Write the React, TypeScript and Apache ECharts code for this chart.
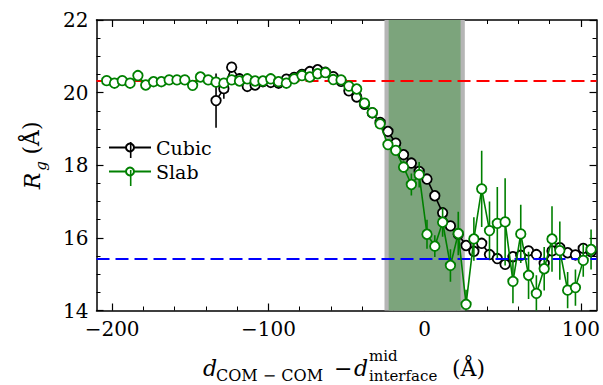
import React, { useEffect, useRef } from "react";
import * as echarts from "echarts";

const FONT = "DejaVu Serif";

// Slab series (green)
const slabX = [
  -203.5, -198.5, -193.5, -188.5, -183.5, -178.5, -173.5, -168.5, -163.5, -158.5,
  -153.5, -148.5, -143.5, -138.5, -133.5, -128.5, -123.5, -118.5, -113.5, -108.5,
  -103.5, -98.5, -93.5, -88.5, -83.5, -78.5, -73.5, -68.5, -63.5, -58.5,
  -53.5, -48.5, -43.5, -38.5, -33.5, -28.5, -23.5, -18.5, -13.5, -8.5,
  -3.5, 1.5, 6.5, 11.5, 16.5, 21.5, 26.5, 31.5, 36.5, 41.5,
  46.5, 51.5, 56.5, 61.5, 66.5, 71.5, 76.5, 81.5, 86.5, 91.5,
  96.5, 101.5, 106.5,
];
const slabY = [
  20.33, 20.26, 20.33, 20.26, 20.47, 20.21, 20.3, 20.3, 20.35, 20.35,
  20.35, 20.2, 20.43, 20.35, 20.29, 20.26, 20.35, 20.32, 20.38, 20.32,
  20.32, 20.38, 20.3, 20.26, 20.38, 20.47, 20.43, 20.52, 20.55, 20.36,
  20.35, 20.18, 20.1, 19.71, 19.45, 19.14, 18.57, 18.41, 17.95, 17.47,
  17.74, 16.1, 15.77, 16.43, 15.24, 16.12, 14.17, 15.97, 17.35, 16.2,
  16.4, 16.44, 14.8, 16.11, 14.97, 14.47, 15.15, 15.97, 15.65, 14.56,
  14.63, 15.38, 15.68,
];
const slabErr = [
  0.05, 0.05, 0.05, 0.05, 0.06, 0.05, 0.05, 0.05, 0.05, 0.05,
  0.05, 0.06, 0.06, 0.06, 0.06, 0.06, 0.06, 0.06, 0.05, 0.05,
  0.05, 0.05, 0.05, 0.05, 0.05, 0.05, 0.05, 0.05, 0.05, 0.05,
  0.06, 0.06, 0.07, 0.07, 0.08, 0.08, 0.1, 0.12, 0.15, 0.3,
  0.35, 0.4, 0.3, 0.4, 0.45, 0.6, 0.4, 0.6, 1.05, 0.8,
  1.0, 1.2, 0.6, 0.8, 0.65, 0.5, 0.6, 0.9, 0.8, 0.5,
  0.5, 0.45, 0.55,
];

// Cubic series (black)
const cubicX = [
  -133.5, -128.5, -123.5, -118.5, -113.5, -108.5, -103.5, -98.5, -93.5, -88.5,
  -83.5, -78.5, -73.5, -68.5, -63.5, -58.5, -53.5, -48.5, -43.5, -38.5,
  -33.5, -28.5, -23.5, -18.5, -13.5, -8.5, -3.5, 1.5, 6.5, 11.5,
  16.5, 21.5, 26.5, 31.5, 36.5, 41.5, 46.5, 51.5, 56.5, 61.5,
  66.5, 71.5, 76.5, 81.5, 86.5, 91.5, 96.5, 101.5, 106.5,
];
const cubicY = [
  19.78, 20.11, 20.7, 20.38, 20.17, 20.21, 20.3, 20.28, 20.26, 20.37,
  20.42, 20.5, 20.58, 20.63, 20.56, 20.44, 20.31, 20.05, 19.88, 19.68,
  19.44, 19.18, 18.93, 18.61, 18.29, 18.06, 17.83, 17.62, 17.16, 16.69,
  16.33, 16.1, 15.79, 15.63, 15.85, 15.54, 15.43, 15.27, 15.48, 15.52,
  15.64, 15.54, 15.3, 15.64, 15.73, 15.59, 15.53, 15.71, 15.62,
];
const cubicErr = [
  0.75, 0.28, 0.12, 0.1, 0.06, 0.05, 0.05, 0.05, 0.05, 0.05,
  0.05, 0.05, 0.05, 0.05, 0.05, 0.05, 0.05, 0.05, 0.05, 0.05,
  0.05, 0.05, 0.06, 0.06, 0.06, 0.06, 0.07, 0.08, 0.08, 0.08,
  0.08, 0.08, 0.08, 0.07, 0.07, 0.07, 0.06, 0.06, 0.06, 0.06,
  0.06, 0.06, 0.06, 0.06, 0.06, 0.06, 0.06, 0.06, 0.06,
];

// Reference levels and interface band
const bulkLevel = 20.32;
const interfaceLevel = 15.43;
const bandOuter = [-25.7, 25.7];
const bandInner = [-23, 23];

// Ticks
const xMajorTicks = [-200, -100, 0, 100];
const xMinorTicks = [-200, -180, -160, -140, -120, -100, -80, -60, -40, -20, 0, 20, 40, 60, 80, 100];

const fmt = (v: number) => (v < 0 ? "\u2212" + Math.abs(v) : String(v));

function errRender(color: string) {
  return (params: any, api: any) => {
    const x = api.value(0);
    const y = api.value(1);
    const e = api.value(2);
    const p1 = api.coord([x, y - e]);
    const p2 = api.coord([x, y + e]);
    return {
      type: "line",
      shape: { x1: p1[0], y1: p1[1], x2: p2[0], y2: p2[1] },
      style: { stroke: color, lineWidth: 1.6 },
    };
  };
}

export default function App() {
  const ref = useRef<HTMLDivElement>(null);
  useEffect(() => {
    if (!ref.current) return;
    const chart = echarts.init(ref.current, undefined, { renderer: "svg" });
    const axisLine = { show: true, onZero: false, lineStyle: { color: "#000", width: 1.5 } };
    const xBase = { type: "value", min: -210, max: 110, splitLine: { show: false }, gridIndex: 0 };
    const hiddenLabel = { show: false };
    const option: any = {
      animation: false,
      backgroundColor: "#fff",
      grid: { left: 96.5, right: 6, top: 20, bottom: 74.5, containLabel: false },
      legend: {
        data: ["Cubic", "Slab"],
        orient: "vertical",
        left: 108,
        top: 138,
        itemWidth: 42,
        itemHeight: 10,
        itemGap: 5,
        padding: 0,
        textStyle: { fontFamily: FONT, fontSize: 19, color: "#000" },
      },
      xAxis: [
        {
          ...xBase,
          position: "bottom",
          axisLine,
          axisTick: { show: true, inside: true, length: 7, customValues: xMajorTicks, lineStyle: { color: "#000", width: 1.2 } },
          axisLabel: { customValues: xMajorTicks, formatter: fmt, fontFamily: FONT, fontSize: 20, color: "#000", margin: 8 },
        },
        {
          ...xBase,
          position: "bottom",
          axisLine: { show: false, onZero: false },
          axisTick: { show: true, inside: true, length: 4, customValues: xMinorTicks, lineStyle: { color: "#000", width: 1 } },
          axisLabel: hiddenLabel,
        },
        {
          ...xBase,
          position: "top",
          axisLine,
          axisTick: { show: true, inside: true, length: 7, customValues: xMajorTicks, lineStyle: { color: "#000", width: 1.2 } },
          axisLabel: hiddenLabel,
        },
        {
          ...xBase,
          position: "top",
          axisLine: { show: false, onZero: false },
          axisTick: { show: true, inside: true, length: 4, customValues: xMinorTicks, lineStyle: { color: "#000", width: 1 } },
          axisLabel: hiddenLabel,
        },
      ],
      yAxis: [
        {
          type: "value",
          min: 14,
          max: 22,
          interval: 2,
          position: "left",
          axisLine,
          splitLine: { show: false },
          axisTick: { show: true, inside: true, length: 7, lineStyle: { color: "#000", width: 1.2 } },
          minorTick: { show: true, splitNumber: 4, length: 4, lineStyle: { color: "#000", width: 1 } },
          axisLabel: { fontFamily: FONT, fontSize: 20, color: "#000", margin: 8 },
        },
        {
          type: "value",
          min: 14,
          max: 22,
          interval: 2,
          position: "right",
          axisLine,
          splitLine: { show: false },
          axisTick: { show: true, inside: true, length: 7, lineStyle: { color: "#000", width: 1.2 } },
          minorTick: { show: true, splitNumber: 4, length: 4, lineStyle: { color: "#000", width: 1 } },
          axisLabel: hiddenLabel,
        },
      ],
      series: [
        {
          type: "line",
          name: "band",
          data: [],
          silent: true,
          z: 1,
          markArea: {
            silent: true,
            data: [
              [{ xAxis: bandOuter[0], itemStyle: { color: "#b5b5b5" } }, { xAxis: bandOuter[1] }],
              [{ xAxis: bandInner[0], itemStyle: { color: "#7ca47c" } }, { xAxis: bandInner[1] }],
            ],
          },
          markLine: {
            silent: true,
            symbol: "none",
            label: { show: false },
            data: [
              { yAxis: bulkLevel, lineStyle: { color: "#ff0000", width: 2, type: [13, 6] } },
              { yAxis: interfaceLevel, lineStyle: { color: "#0000ff", width: 2, type: [13, 6] } },
            ],
          },
        },
        {
          type: "custom",
          name: "cubicErr",
          clip: true,
          z: 2,
          data: cubicX.map((x, i) => [x, cubicY[i], cubicErr[i]]),
          encode: { x: 0, y: 1 },
          renderItem: errRender("#000"),
        },
        {
          type: "line",
          name: "Cubic",
          z: 3,
          data: cubicX.map((x, i) => [x, cubicY[i]]),
          symbol: "circle",
          symbolSize: 9.5,
          showSymbol: true,
          clip: true,
          lineStyle: { color: "#000", width: 1.6 },
          itemStyle: { color: "#fff", borderColor: "#000", borderWidth: 1.8 },
        },
        {
          type: "custom",
          name: "slabErr",
          clip: true,
          z: 4,
          data: slabX.map((x, i) => [x, slabY[i], slabErr[i]]),
          encode: { x: 0, y: 1 },
          renderItem: errRender("#008000"),
        },
        {
          type: "line",
          name: "Slab",
          z: 5,
          data: slabX.map((x, i) => [x, slabY[i]]),
          symbol: "circle",
          symbolSize: 9.5,
          showSymbol: true,
          clip: true,
          lineStyle: { color: "#008000", width: 1.6 },
          itemStyle: { color: "#fff", borderColor: "#008000", borderWidth: 1.8 },
        },
      ],
      graphic: [
        // legend error-bar ticks
        { type: "line", shape: { x1: 130.7, y1: 142, x2: 130.7, y2: 158 }, style: { stroke: "#000", lineWidth: 1.6 }, z: 100 },
        { type: "line", shape: { x1: 130.7, y1: 170, x2: 130.7, y2: 186 }, style: { stroke: "#008000", lineWidth: 1.6 }, z: 100 },
        // y axis title
        { type: "text", x: 32, y: 181, rotation: Math.PI / 2, style: { text: "R", fontFamily: FONT, fontStyle: "italic", fontSize: 22, fill: "#000", align: "center", verticalAlign: "middle" } },
        { type: "text", x: 41, y: 166, rotation: Math.PI / 2, style: { text: "g", fontFamily: FONT, fontStyle: "italic", fontSize: 15, fill: "#000", align: "center", verticalAlign: "middle" } },
        { type: "text", x: 31, y: 138, rotation: Math.PI / 2, style: { text: "(Å)", fontFamily: FONT, fontSize: 22, fill: "#000", align: "center", verticalAlign: "middle" } },
        // x axis title
        { type: "text", x: 203, y: 368, style: { text: "d", fontFamily: FONT, fontStyle: "italic", fontSize: 22, fill: "#000", align: "left", verticalAlign: "middle" } },
        { type: "text", x: 216, y: 375, style: { text: "COM − COM", fontFamily: FONT, fontSize: 16, fill: "#000", align: "left", verticalAlign: "middle" } },
        { type: "text", x: 334, y: 368, style: { text: "−", fontFamily: FONT, fontSize: 22, fill: "#000", align: "left", verticalAlign: "middle" } },
        { type: "text", x: 354, y: 368, style: { text: "d", fontFamily: FONT, fontStyle: "italic", fontSize: 22, fill: "#000", align: "left", verticalAlign: "middle" } },
        { type: "text", x: 369, y: 356, style: { text: "mid", fontFamily: FONT, fontSize: 15, fill: "#000", align: "left", verticalAlign: "middle" } },
        { type: "text", x: 369, y: 376, style: { text: "interface", fontFamily: FONT, fontSize: 15, fill: "#000", align: "left", verticalAlign: "middle" } },
        { type: "text", x: 452, y: 368, style: { text: "(Å)", fontFamily: FONT, fontSize: 22, fill: "#000", align: "left", verticalAlign: "middle" } },
      ],
    };
    chart.setOption(option);
    return () => chart.dispose();
  }, []);
  return <div ref={ref} style={{ position: "absolute", left: 0, top: 0, width: 603, height: 385 }} />;
}
